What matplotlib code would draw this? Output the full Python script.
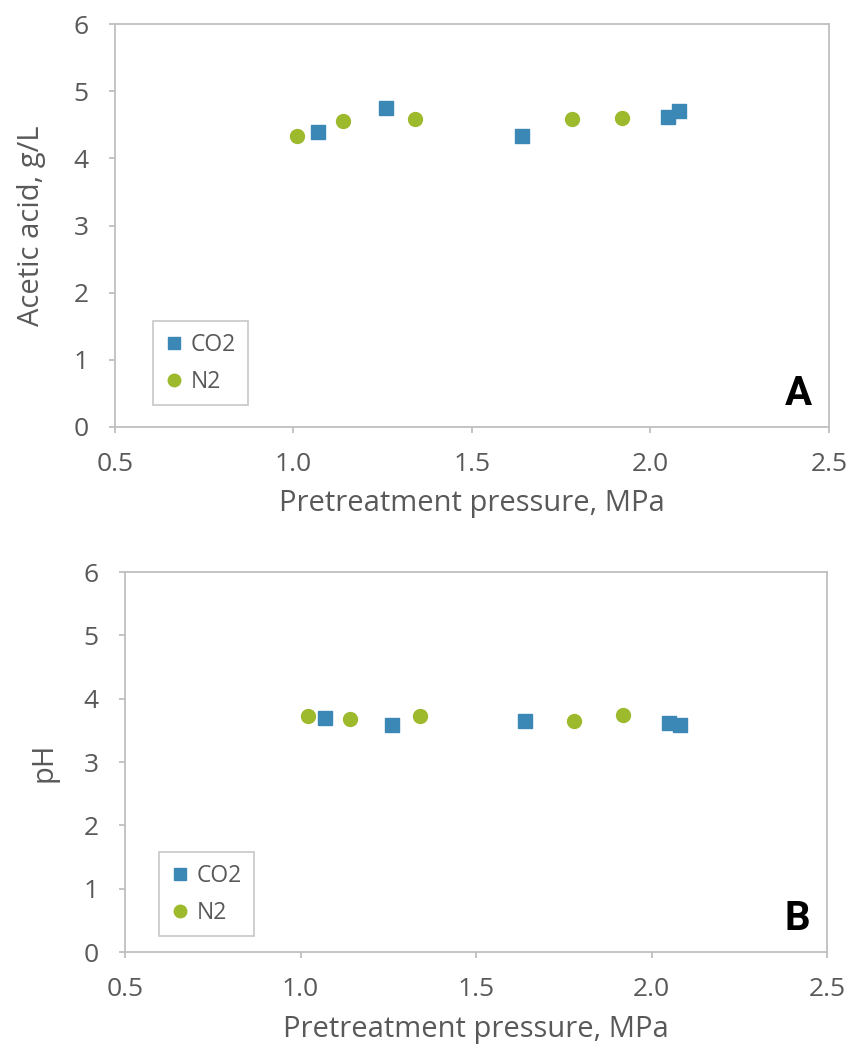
import matplotlib
matplotlib.use("Agg")
import matplotlib.pyplot as plt

# Data
co2_pressure = [1.07, 1.26, 1.64, 2.05, 2.08]
co2_acetic = [4.39, 4.75, 4.33, 4.61, 4.71]
co2_ph_pressure = [1.07, 1.26, 1.64, 2.05, 2.08]
co2_ph = [3.70, 3.58, 3.64, 3.62, 3.59]

n2_pressure = [1.01, 1.14, 1.34, 1.78, 1.92]
n2_acetic = [4.33, 4.55, 4.58, 4.58, 4.60]
n2_ph_pressure = [1.02, 1.14, 1.34, 1.78, 1.92]
n2_ph = [3.72, 3.68, 3.72, 3.64, 3.74]

x_ticks = [0.5, 1.0, 1.5, 2.0, 2.5]
x_ticklabels = ["0.5", "1.0", "1.5", "2.0", "2.5"]
y_ticks = [0, 1, 2, 3, 4, 5, 6]

BLUE = "#3B87B6"
GREEN = "#9DB92C"
GRAY_TXT = "#595959"
SPINE = "#BFBFBF"

plt.rcParams["font.family"] = ["Open Sans", "DejaVu Sans"]

W, H = 850, 1054
fig = plt.figure(figsize=(W / 100, H / 100), dpi=100)
# axes in pixel boxes (left, top, right, bottom)
boxA = (115, 24, 829, 427)
boxB = (125, 572, 827, 952)


def add_axes(box):
    l, t, r, b = box
    return fig.add_axes([l / W, 1 - b / H, (r - l) / W, (b - t) / H])


axA = add_axes(boxA)
axB = add_axes(boxB)


def style(ax, box, ylabel, letter, ylabelpad, leg_off):
    l, t, r, b = box
    wpx, hpx = r - l, b - t
    ax.set_xlim(0.5, 2.5)
    ax.set_ylim(0, 6)
    ax.set_xticks(x_ticks)
    ax.set_xticklabels(x_ticklabels)
    ax.set_yticks(y_ticks)
    for s in ax.spines.values():
        s.set_color(SPINE)
        s.set_linewidth(1.3)
    ax.tick_params(axis="both", colors=SPINE, labelcolor=GRAY_TXT,
                   labelsize=19, length=4, width=1.3, direction="out")
    ax.tick_params(axis="x", pad=14)
    ax.tick_params(axis="y", pad=15)
    ax.set_xlabel("Pretreatment pressure, MPa", fontsize=21, color=GRAY_TXT, labelpad=9)
    ax.set_ylabel(ylabel, fontsize=21, color=GRAY_TXT, labelpad=ylabelpad)
    ax.text(1 - 17 / wpx, 22 / hpx, letter, transform=ax.transAxes, fontsize=29,
            fontweight="bold", color="black", ha="right", va="baseline",
            family=["Roboto", "DejaVu Sans"])
    leg = ax.legend(loc="lower left",
                    bbox_to_anchor=(leg_off[0] / wpx, leg_off[1] / hpx),
                    fontsize=16.5, frameon=True, fancybox=False,
                    handletextpad=0.35, handlelength=0.8, borderpad=0.5,
                    labelspacing=0.55, borderaxespad=0.0, markerscale=0.9,
                    labelcolor=GRAY_TXT)
    leg.get_frame().set_edgecolor(SPINE)
    leg.get_frame().set_linewidth(1.3)


axA.plot(co2_pressure, co2_acetic, linestyle="none", marker="s", markersize=10,
         color=BLUE, label="CO2")
axA.plot(n2_pressure, n2_acetic, linestyle="none", marker="o", markersize=10,
         color=GREEN, label="N2")
style(axA, boxA, "Acetic acid, g/L", "A", 20, (38, 22))

axB.plot(co2_ph_pressure, co2_ph, linestyle="none", marker="s", markersize=10,
         color=BLUE, label="CO2")
axB.plot(n2_ph_pressure, n2_ph, linestyle="none", marker="o", markersize=10,
         color=GREEN, label="N2")
style(axB, boxB, "pH", "B", 18, (34, 16))

fig.savefig("out.png", dpi=100)
